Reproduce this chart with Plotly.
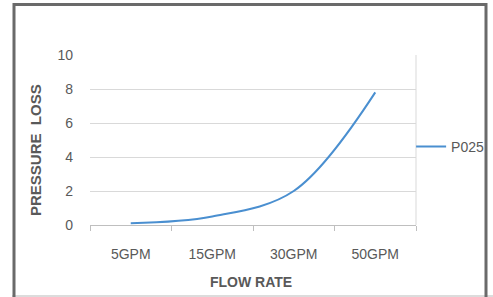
import plotly.graph_objects as go

categories = ["5GPM", "15GPM", "30GPM", "50GPM"]
p025 = [0.1, 0.5, 2.0, 7.8]
y_ticks = [0, 2, 4, 6, 8, 10]

W, H = 493, 297
L, T = 90, 55
R = W - 416
B = H - 225
pw, ph = W - L - R, H - T - B

def px(x):
    return (x - L) / pw

def py(y):
    return (H - B - y) / ph

font_family = "Liberation Sans, Arial"
txt = "#595959"

fig = go.Figure()
fig.add_trace(go.Scatter(
    x=categories, y=p025, mode="lines", name="P025",
    line=dict(color="#4A8FD0", width=2, shape="spline", smoothing=1.0),
))

fig.update_layout(
    width=W, height=H,
    margin=dict(l=L, r=R, t=T, b=B, autoexpand=False),
    paper_bgcolor="white", plot_bgcolor="white",
    font=dict(family=font_family, size=14, color=txt),
    showlegend=True,
    legend=dict(x=0.985, y=0.46, xanchor="left", yanchor="middle",
                bgcolor="rgba(0,0,0,0)", font=dict(size=14, color=txt),
                itemwidth=30),
    xaxis=dict(
        type="category", showgrid=False, showline=True, linecolor="#BFBFBF",
        linewidth=1, ticks="outside", tickson="boundaries", ticklen=5,
        tickcolor="#BFBFBF", range=[-0.5, 3.5], ticklabelstandoff=16,
        tickfont=dict(size=14, color=txt), automargin=False,
    ),
    yaxis=dict(
        range=[0, 10], tickvals=y_ticks, showgrid=True, gridcolor="#D9D9D9",
        gridwidth=1, zeroline=False, showline=False, ticks="",
        ticklabelstandoff=16, automargin=False,
        tickfont=dict(size=14, color=txt),
    ),
    annotations=[
        dict(text="<b>PRESSURE  LOSS</b>", xref="paper", yref="paper",
             x=px(35), y=py(150), textangle=-90, showarrow=False,
             xanchor="center", yanchor="middle",
             font=dict(size=15, color=txt)),
        dict(text="<b>FLOW RATE</b>", xref="paper", yref="paper",
             x=px(251), y=py(282), showarrow=False,
             xanchor="center", yanchor="middle",
             font=dict(size=14, color=txt)),
    ],
    shapes=[
        dict(type="line", xref="paper", yref="paper", x0=1, x1=1, y0=0, y1=1,
             line=dict(color="#D9D9D9", width=1)),
        dict(type="line", xref="paper", yref="paper",
             x0=px(12), x1=px(493), y0=py(296), y1=py(296),
             line=dict(color="#D0D0D0", width=1.5), layer="below"),
        dict(type="rect", xref="paper", yref="paper",
             x0=px(14), x1=px(486), y0=py(4.5), y1=py(305),
             line=dict(color="#6A6A6A", width=3), fillcolor="rgba(0,0,0,0)",
             layer="below"),
    ],
)

fig.write_html("out.html", config={"displayModeBar": False},
               post_script="document.body.style.margin='0';")
